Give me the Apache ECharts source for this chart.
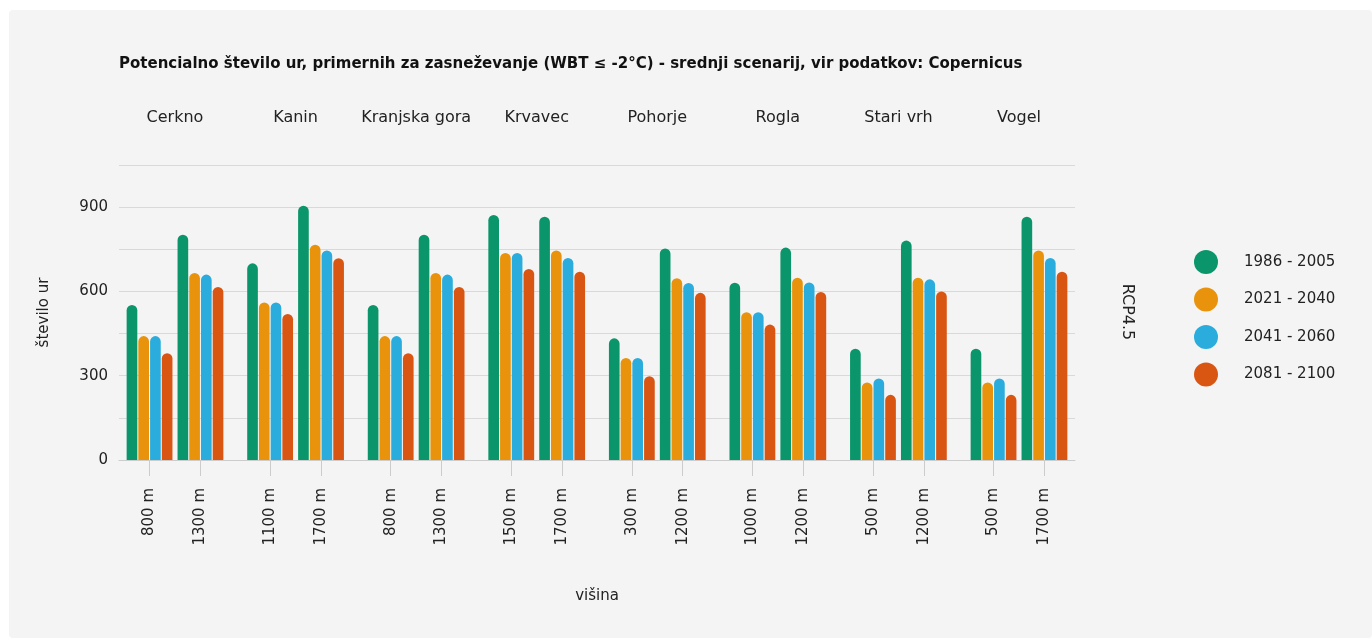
<!DOCTYPE html>
<html>
<head>
<meta charset="utf-8">
<script src="https://cdn.jsdelivr.net/npm/echarts@6/dist/echarts.min.js"></script>
<style>
  html, body { margin: 0; padding: 0; background: #ffffff; }
  #panel { position: absolute; left: 9px; top: 10px; right: 0; bottom: 0; background: #f4f4f4; border-radius: 4px; }
  #chart { position: absolute; left: 0; top: 0; width: 1372px; height: 638px; }
</style>
</head>
<body>
<div id="panel"></div>
<div id="chart"></div>
<script>
// Ski resorts (facets) and the two measured altitudes of each
const resorts = ['Cerkno', 'Kanin', 'Kranjska gora', 'Krvavec', 'Pohorje', 'Rogla', 'Stari vrh', 'Vogel'];
const altitudes = [
  ['800 m', '1300 m'],
  ['1100 m', '1700 m'],
  ['800 m', '1300 m'],
  ['1500 m', '1700 m'],
  ['300 m', '1200 m'],
  ['1000 m', '1200 m'],
  ['500 m', '1200 m'],
  ['500 m', '1700 m']
];
const periods = ['1986 - 2005', '2021 - 2040', '2041 - 2060', '2081 - 2100'];
const colors = ['#0a966a', '#e8930b', '#2aaddd', '#d95512'];

// Potential snowmaking hours per period, one [low, high] pair per resort
const hours1986 = [[552, 802], [700, 905], [552, 802], [872, 866], [433, 753], [631, 756], [396, 781], [396, 866]];
const hours2021 = [[441, 666], [561, 766], [441, 666], [737, 746], [363, 647], [526, 649], [276, 649], [276, 746]];
const hours2041 = [[441, 660], [561, 746], [441, 660], [737, 719], [363, 630], [526, 632], [290, 643], [290, 719]];
const hours2081 = [[380, 616], [520, 718], [380, 616], [680, 670], [298, 595], [482, 598], [232, 600], [232, 670]];
const seriesValues = [hours1986, hours2021, hours2041, hours2081];

const yTicks = [0, 300, 600, 900];

const FONT = 'DejaVu Sans';
const TXT = '#222222';

// plot geometry: eight facet panels side by side
const plotLeft = 119, plotRight = 1075, plotTop = 165, plotBottom = 460;
const nFacet = resorts.length;
const facetStep = 120.57;
const facetW = 112;
const unit = facetW / 2.2;

const grids = [], xAxes = [], yAxes = [], series = [], titles = [];

// background panel: gridlines, y labels, baseline, axis names
grids.push({ left: plotLeft, top: plotTop, width: plotRight - plotLeft, height: plotBottom - plotTop, containLabel: false });
xAxes.push({
  gridIndex: 0, type: 'value', min: 0, max: 1,
  axisLine: { show: true, lineStyle: { color: '#cccccc', width: 1 } },
  axisTick: { show: false }, axisLabel: { show: false }, splitLine: { show: false },
  name: 'višina', nameLocation: 'middle', nameGap: 129,
  nameTextStyle: { fontFamily: FONT, fontSize: 15, color: TXT }
});
yAxes.push({
  gridIndex: 0, type: 'value', min: 0, max: 1050, interval: 150,
  axisLine: { show: false }, axisTick: { show: false },
  axisLabel: {
    margin: 11, fontFamily: FONT, fontSize: 15, color: TXT,
    formatter: v => (yTicks.indexOf(v) >= 0 ? String(v) : '')
  },
  splitLine: { show: true, lineStyle: { color: '#d9d9d9', width: 1 } },
  name: 'število ur', nameLocation: 'middle', nameGap: 67, nameRotate: 90,
  nameTextStyle: { fontFamily: FONT, fontSize: 15, color: TXT }
});

for (let i = 0; i < nFacet; i++) {
  const fLeft = plotLeft + i * facetStep;
  const gi = i + 1;
  grids.push({ left: fLeft + 0.1 * unit, top: plotTop, width: 2 * unit, height: plotBottom - plotTop });
  xAxes.push({
    gridIndex: gi, type: 'category', data: altitudes[i],
    axisLine: { show: false },
    axisTick: { show: true, alignWithLabel: true, length: 16, lineStyle: { color: '#cccccc' } },
    axisLabel: { rotate: 90, margin: 28, fontFamily: FONT, fontSize: 15, color: TXT, interval: 0 },
    splitLine: { show: false }
  });
  yAxes.push({ gridIndex: gi, type: 'value', min: 0, max: 1050, show: false, splitLine: { show: false } });
  titles.push({
    text: resorts[i], left: fLeft + facetW / 2, top: 110, textAlign: 'center', padding: 0,
    textStyle: { fontFamily: FONT, fontSize: 16, fontWeight: 'normal', color: TXT }
  });
  periods.forEach((p, k) => {
    series.push({
      name: p, type: 'bar', xAxisIndex: gi, yAxisIndex: gi,
      data: seriesValues[k][i],
      barCategoryGap: '10%', barGap: '10%',
      itemStyle: { color: colors[k], borderRadius: [6, 6, 0, 0] },
      silent: true, animation: false
    });
  });
}

titles.unshift({
  text: 'Potencialno število ur, primernih za zasneževanje (WBT ≤ -2°C) - srednji scenarij, vir podatkov: Copernicus',
  left: 119, top: 57, padding: 0,
  textStyle: { fontFamily: FONT, fontSize: 15, fontWeight: 'bold', color: '#111111' }
});

const chart = echarts.init(document.getElementById('chart'), null, { renderer: 'canvas' });
chart.setOption({
  backgroundColor: 'transparent',
  animation: false,
  title: titles,
  grid: grids,
  xAxis: xAxes,
  yAxis: yAxes,
  legend: {
    data: periods, orient: 'vertical', left: 1189, top: 245, padding: 5,
    icon: 'circle', itemWidth: 24, itemHeight: 24, itemGap: 13.5,
    selectedMode: false,
    textStyle: { fontFamily: FONT, fontSize: 15, color: TXT, padding: [0, 0, 0, 21] }
  },
  graphic: [{
    type: 'text', x: 1127, y: 312, rotation: -Math.PI / 2,
    style: { text: 'RCP4.5', fontFamily: FONT, fontSize: 16, fill: TXT, textAlign: 'center', textVerticalAlign: 'middle' }
  }],
  series: series
});
</script>
</body>
</html>
